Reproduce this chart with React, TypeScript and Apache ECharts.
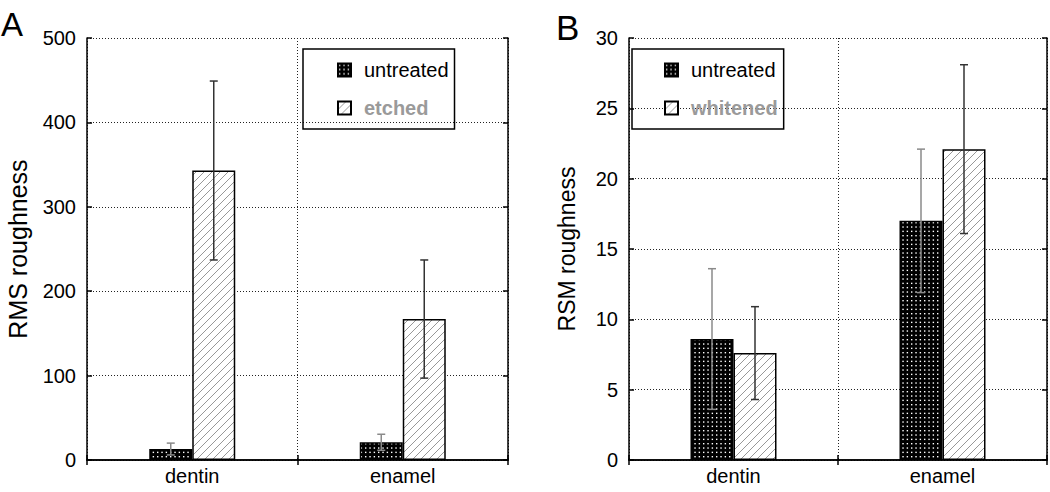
import React, { useEffect, useRef } from "react";
import * as echarts from "echarts";

const categories = ["dentin", "enamel"];
const yTicksA = [0, 100, 200, 300, 400, 500];
const yTicksB = [0, 5, 10, 15, 20, 25, 30];

const aUntreated = [13, 21];
const aUntreatedErr = [7, 9.5];
const aEtched = [343, 167];
const aEtchedErr = [106, 70];

const bUntreated = [8.6, 17];
const bUntreatedErr = [5, 5.1];
const bWhitened = [7.6, 22.1];
const bWhitenedErr = [3.3, 6];

const FONT = "'Liberation Sans', Arial, Helvetica, sans-serif";
const BAR_W = 43;

function dotPattern() {
  const c = document.createElement("canvas");
  const n = 13;
  c.width = n;
  c.height = n;
  const g = c.getContext("2d")!;
  g.fillStyle = "#000";
  g.fillRect(0, 0, n, n);
  g.fillStyle = "#fff";
  for (let i = 0; i < 3; i++) {
    for (let j = 0; j < 3; j++) {
      g.fillRect(1 + i * (n / 3), 1 + j * (n / 3), 1.4, 1.4);
    }
  }
  return { image: c.toDataURL(), imageWidth: n, imageHeight: n, repeat: "repeat" };
}

function hatchPattern() {
  const c = document.createElement("canvas");
  const n = 8;
  c.width = n;
  c.height = n;
  const g = c.getContext("2d")!;
  g.fillStyle = "#fff";
  g.fillRect(0, 0, n, n);
  g.strokeStyle = "#8c8c8c";
  g.lineWidth = 0.9;
  for (const k of [0, n, 2 * n]) {
    g.beginPath();
    g.moveTo(-2, k + 2);
    g.lineTo(k + 2, -2);
    g.stroke();
  }
  return { image: c.toDataURL(), imageWidth: n, imageHeight: n, repeat: "repeat" };
}

function errData(vals: number[], errs: number[]) {
  return vals.map((v, i) => [i, v - errs[i], v + errs[i]]);
}

function errSeries(name: string, axis: number, vals: number[], errs: number[], offset: number, color: string) {
  return {
    type: "custom",
    name: name + "_err",
    xAxisIndex: axis,
    yAxisIndex: axis,
    z: 10,
    silent: true,
    encode: { x: 0, y: [1, 2] },
    data: errData(vals, errs),
    renderItem: (params: any, api: any) => {
      const cat = api.value(0);
      const lo = api.coord([cat, api.value(1)]);
      const hi = api.coord([cat, api.value(2)]);
      const x = lo[0] + offset;
      const st = { stroke: color, lineWidth: 1.5 };
      return {
        type: "group",
        children: [
          { type: "line", shape: { x1: x, y1: lo[1], x2: x, y2: hi[1] }, style: st },
          { type: "line", shape: { x1: x - 4, y1: hi[1], x2: x + 4, y2: hi[1] }, style: st },
          { type: "line", shape: { x1: x - 4, y1: lo[1], x2: x + 4, y2: lo[1] }, style: st },
        ],
      };
    },
  };
}

const dotted = { type: [1, 2], color: "#222", width: 1 };

function catAxis(grid: number, position: string, showLabel: boolean) {
  return {
    type: "category",
    gridIndex: grid,
    position,
    data: categories,
    boundaryGap: true,
    axisLine: { show: true, lineStyle: { color: "#000", width: 1.5 } },
    axisTick: { show: true, inside: true, length: 5, lineStyle: { color: "#000", width: 1.5 } },
    axisLabel: { show: showLabel, fontSize: 20, color: "#000", fontFamily: FONT, margin: 6 },
    splitLine: { show: showLabel, lineStyle: dotted },
  };
}

function valAxis(grid: number, position: string, max: number, interval: number, showLabel: boolean, name: string, nameGap: number, nameSize: number) {
  return {
    type: "value",
    gridIndex: grid,
    position,
    min: 0,
    max,
    interval,
    name: showLabel ? name : "",
    nameLocation: "middle",
    nameGap,
    nameTextStyle: { fontSize: nameSize, color: "#000", fontFamily: FONT },
    axisLine: { show: true, lineStyle: { color: "#000", width: 1.5 } },
    axisTick: { show: true, inside: true, length: 5, lineStyle: { color: "#000", width: 1.5 } },
    axisLabel: { show: showLabel, fontSize: 20, color: "#000", fontFamily: FONT, margin: 11 },
    splitLine: { show: showLabel, lineStyle: dotted },
  };
}

function barSeries(name: string, axis: number, data: number[], fill: any) {
  return {
    type: "bar",
    name,
    xAxisIndex: axis,
    yAxisIndex: axis,
    data,
    barWidth: BAR_W,
    barGap: "0%",
    z: 3,
    itemStyle: {
      color: fill,
      borderColor: "#000",
      borderWidth: 1.5,
    },
  };
}

function legend(left: number, top: number, second: string, padLeft: number) {
  return {
    left,
    top,
    orient: "vertical",
    selectedMode: false,
    borderColor: "#000",
    borderWidth: 1.5,
    padding: [11, 6, 11, padLeft],
    itemGap: 18,
    itemWidth: 13,
    itemHeight: 13,
    textStyle: { fontSize: 20, color: "#000", fontFamily: FONT, padding: [0, 0, 0, 8] },
    data: [
      { name: "untreated", icon: "rect" },
      { name: second, icon: "rect", textStyle: { color: "#9a9a9a", fontWeight: "bold", padding: [0, 0, 0, 8] } },
    ],
  };
}

export default function App() {
  const ref = useRef<HTMLDivElement>(null);
  useEffect(() => {
    document.body.style.margin = "0";
    const chart = echarts.init(ref.current!, null, { renderer: "svg" });
    const dots = dotPattern();
    const hatch = hatchPattern();
    const option = {
      animation: false,
      backgroundColor: "#fff",
      grid: [
        { left: 87, right: 1050 - 508, top: 38, bottom: 492 - 460 },
        { left: 629, right: 1050 - 1047, top: 38, bottom: 492 - 460 },
      ],
      xAxis: [catAxis(0, "bottom", true), catAxis(0, "top", false), catAxis(1, "bottom", true), catAxis(1, "top", false)],
      yAxis: [
        valAxis(0, "left", yTicksA[yTicksA.length - 1], yTicksA[1] - yTicksA[0], true, "RMS roughness", 57, 25),
        valAxis(0, "right", yTicksA[yTicksA.length - 1], yTicksA[1] - yTicksA[0], false, "", 0, 20),
        valAxis(1, "left", yTicksB[yTicksB.length - 1], yTicksB[1] - yTicksB[0], true, "RSM roughness", 51, 23),
        valAxis(1, "right", yTicksB[yTicksB.length - 1], yTicksB[1] - yTicksB[0], false, "", 0, 20),
      ],
      legend: [legend(303, 49, "etched", 34), legend(632, 49, "whitened", 32)],
      graphic: [
        { type: "text", left: 1, top: 8, style: { text: "A", fontSize: 33, fontFamily: FONT, fill: "#000" } },
        { type: "text", left: 556, top: 10, style: { text: "B", fontSize: 35, fontFamily: FONT, fill: "#000" } },
      ],
      series: [
        barSeries("untreated", 0, aUntreated, dots),
        barSeries("etched", 0, aEtched, hatch),
        barSeries("untreated", 2, bUntreated, dots),
        barSeries("whitened", 2, bWhitened, hatch),
        errSeries("untreated", 0, aUntreated, aUntreatedErr, -BAR_W / 2, "#8a8a8a"),
        errSeries("etched", 0, aEtched, aEtchedErr, BAR_W / 2, "#333"),
        errSeries("untreated", 2, bUntreated, bUntreatedErr, -BAR_W / 2, "#8a8a8a"),
        errSeries("whitened", 2, bWhitened, bWhitenedErr, BAR_W / 2, "#333"),
      ],
    };
    chart.setOption(option as any);
    return () => chart.dispose();
  }, []);
  return <div ref={ref} style={{ width: 1050, height: 492 }} />;
}
